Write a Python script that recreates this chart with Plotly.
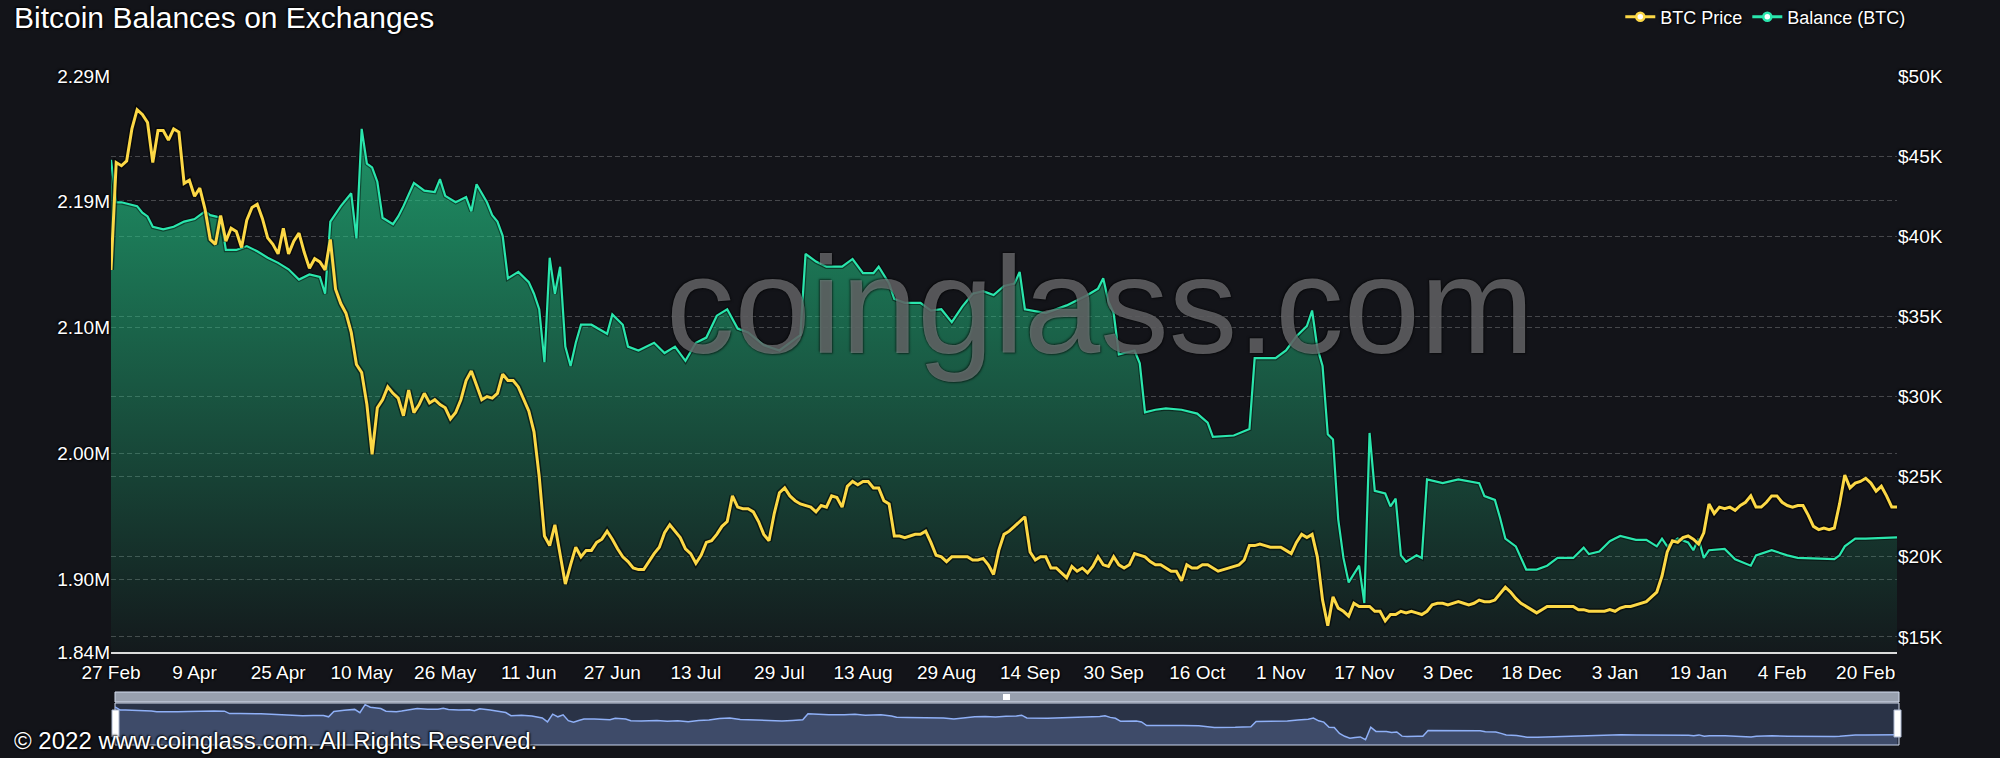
import plotly.graph_objects as go

# ---------------- data ----------------
tick_labels = ["27 Feb", "9 Apr", "25 Apr", "10 May", "26 May", "11 Jun", "27 Jun",
               "13 Jul", "29 Jul", "13 Aug", "29 Aug", "14 Sep", "30 Sep", "16 Oct",
               "1 Nov", "17 Nov", "3 Dec", "18 Dec", "3 Jan", "19 Jan", "4 Feb", "20 Feb"]
label_every = 16          # one x label every 16 categories
n_categories = 343        # category slots on the x axis

# BTC price in $K, one value per category slot
price_k = [
    37.9, 44.6, 44.4, 44.7, 46.7, 47.9, 47.6, 47.1, 44.6, 46.6, 46.6, 46.0, 46.7, 46.5, 43.3, 43.5,
    42.5, 43.0, 41.7, 39.8, 39.5, 41.3, 39.7, 40.5, 40.3, 39.3, 41.0, 41.8, 42.0, 41.1, 39.9, 39.5,
    38.9, 40.5, 38.9, 39.7, 40.2, 39.0, 38.0, 38.6, 38.4, 37.9, 39.8, 36.7, 35.8, 35.2, 34.0, 32.0,
    31.5, 29.5, 26.4, 29.3, 29.8, 30.6, 30.2, 29.9, 28.8, 30.4, 29.0, 29.5, 30.2, 29.6, 29.8, 29.5,
    29.3, 28.6, 29.0, 29.8, 31.0, 31.6, 30.7, 29.8, 30.0, 29.9, 30.2, 31.4, 31.0, 31.0, 30.6, 29.8,
    29.1, 27.8, 25.0, 21.3, 20.7, 22.0, 20.2, 18.3, 19.5, 20.6, 20.0, 20.4, 20.4, 20.9, 21.1, 21.6,
    21.1, 20.5, 20.0, 19.7, 19.3, 19.2, 19.2, 19.7, 20.2, 20.6, 21.5, 22.0, 21.6, 21.2, 20.5, 20.2,
    19.6, 20.1, 20.9, 21.0, 21.4, 21.9, 22.2, 23.8, 23.1, 23.0, 23.0, 22.8, 22.2, 21.4, 21.0, 22.7,
    24.0, 24.3, 23.8, 23.5, 23.3, 23.2, 23.1, 22.8, 23.2, 23.1, 23.8, 23.7, 23.1, 24.4, 24.7, 24.5,
    24.7, 24.7, 24.3, 24.3, 23.5, 23.3, 21.3, 21.3, 21.2, 21.3, 21.4, 21.4, 21.6, 20.9, 20.1, 20.0,
    19.7, 20.0, 20.0, 20.0, 20.0, 19.8, 19.8, 19.9, 19.5, 18.9, 20.4, 21.4, 21.6, 21.9, 22.2, 22.5,
    20.3, 19.8, 20.0, 20.0, 19.3, 19.3, 19.0, 18.7, 19.4, 19.1, 19.3, 19.0, 19.4, 20.0, 19.5, 19.4,
    20.0, 19.5, 19.3, 19.5, 20.2, 20.1, 20.0, 19.7, 19.5, 19.5, 19.3, 19.1, 19.1, 18.5, 19.5, 19.3,
    19.3, 19.5, 19.5, 19.3, 19.1, 19.2, 19.3, 19.4, 19.5, 19.8, 20.7, 20.7, 20.8, 20.7, 20.6, 20.6,
    20.6, 20.4, 20.2, 20.9, 21.4, 21.2, 21.4, 20.0, 17.3, 15.7, 17.5, 16.8, 16.6, 16.3, 17.1, 16.9,
    16.9, 16.9, 16.6, 16.6, 16.0, 16.4, 16.4, 16.6, 16.5, 16.6, 16.5, 16.4, 16.6, 17.0, 17.1, 17.1,
    17.0, 17.1, 17.2, 17.1, 17.0, 17.1, 17.3, 17.2, 17.2, 17.3, 17.7, 18.1, 17.8, 17.4, 17.1, 16.9,
    16.7, 16.5, 16.7, 16.9, 16.9, 16.9, 16.9, 16.9, 16.9, 16.7, 16.7, 16.6, 16.6, 16.6, 16.6, 16.7,
    16.6, 16.8, 16.9, 16.9, 17.0, 17.1, 17.2, 17.5, 17.8, 18.8, 20.3, 21.0, 20.9, 21.2, 21.3, 21.1,
    20.8, 21.5, 23.3, 22.7, 23.1, 23.0, 23.1, 22.9, 23.2, 23.4, 23.8, 23.1, 23.1, 23.4, 23.8, 23.8,
    23.4, 23.2, 23.1, 23.2, 23.2, 22.6, 21.9, 21.7, 21.8, 21.7, 21.8, 23.3, 25.1, 24.3, 24.6, 24.7,
    24.9, 24.6, 24.1, 24.4, 23.8, 23.1, 23.1,
]

# Exchange balance in million BTC, read at these category slots
balance_slot = [
    0, 1, 2, 4, 5, 6, 7, 8, 10, 12, 14, 16, 18, 19, 21, 22, 24, 26, 28, 30, 32, 34, 36, 38, 40, 41,
    42, 44, 46, 47, 48, 49, 50, 51, 52, 54, 55, 56, 58, 60, 62, 63, 64, 66, 68, 69, 70, 72, 73, 74,
    75, 76, 78, 80, 81, 82, 83, 84, 85, 86, 87, 88, 89, 90, 92, 95, 96, 98, 99, 101, 104, 106, 108,
    110, 112, 114, 116, 118, 120, 122, 125, 128, 130, 132, 133, 135, 137, 140, 142, 144, 146, 147,
    149, 150, 152, 155, 157, 159, 161, 163, 165, 167, 169, 171, 173, 174, 175, 179, 183, 187, 189,
    190, 191, 192, 193, 196, 197, 198, 200, 202, 205, 208, 210, 211, 215, 218, 219, 223, 225, 227,
    229, 230, 231, 232, 233, 234, 235, 236, 237, 238, 239, 240, 241, 242, 244, 245, 246, 247, 248,
    250, 251, 252, 255, 258, 262, 263, 265, 266, 267, 269, 271, 273, 275, 277, 280, 282, 283, 285,
    287, 288, 289, 292, 294, 296, 297, 298, 300, 302, 303, 304, 305, 306, 309, 311, 313, 314, 315,
    317, 318, 321, 323, 330, 331, 332, 334, 336, 342,
]
balance_m = [
    2.226, 2.193, 2.193, 2.191, 2.190, 2.185, 2.182, 2.174, 2.172, 2.174, 2.178, 2.180, 2.186, 2.183,
    2.181, 2.156, 2.156, 2.159, 2.155, 2.150, 2.146, 2.141, 2.133, 2.137, 2.135, 2.122,
    2.178, 2.190, 2.200, 2.165, 2.250, 2.223, 2.220, 2.209, 2.181, 2.176, 2.182, 2.190, 2.208, 2.202,
    2.201, 2.211, 2.198, 2.193, 2.197, 2.186, 2.207, 2.193, 2.183, 2.178,
    2.167, 2.134, 2.139, 2.131, 2.122, 2.110, 2.069, 2.150, 2.122, 2.143, 2.081, 2.066, 2.084, 2.098,
    2.098, 2.091, 2.106, 2.098, 2.081, 2.078, 2.084, 2.076, 2.081,
    2.070, 2.084, 2.088, 2.105, 2.110, 2.095, 2.092, 2.082, 2.078, 2.084, 2.090, 2.153, 2.147, 2.143,
    2.143, 2.149, 2.138, 2.138, 2.143,
    2.130, 2.118, 2.115, 2.115, 2.109, 2.110, 2.100, 2.112, 2.122, 2.124, 2.121, 2.128, 2.130, 2.139,
    2.110, 2.107, 2.113, 2.121, 2.126,
    2.134, 2.116, 2.107, 2.075, 2.078, 2.068, 2.030, 2.032, 2.033, 2.032, 2.029, 2.022, 2.011, 2.012,
    2.017, 2.072, 2.072, 2.078, 2.089,
    2.097, 2.109, 2.080, 2.066, 2.013, 2.009, 1.947, 1.917, 1.898, 1.905, 1.911, 1.882, 2.014, 1.969,
    1.967, 1.957, 1.963, 1.919, 1.914,
    1.919, 1.917, 1.978, 1.975, 1.978, 1.975, 1.965, 1.962, 1.948, 1.932, 1.926, 1.908, 1.908, 1.911,
    1.917, 1.917, 1.925, 1.920, 1.922,
    1.930, 1.932, 1.934, 1.931, 1.931, 1.926, 1.932, 1.926, 1.932, 1.929, 1.923, 1.932, 1.917, 1.923,
    1.924, 1.916, 1.913, 1.911, 1.919,
    1.922, 1.923, 1.919, 1.917, 1.916, 1.919, 1.926, 1.932, 1.932, 1.933,
]

left_tick_vals = [1.844, 1.900, 1.998, 2.096, 2.194, 2.291]
left_tick_text = ["1.84M", "1.90M", "2.00M", "2.10M", "2.19M", "2.29M"]
right_tick_vals = [15, 20, 25, 30, 35, 40, 45, 50]
right_tick_text = ["$15K", "$20K", "$25K", "$30K", "$35K", "$40K", "$45K", "$50K"]
left_range = [1.844, 2.291]
right_range = [14.06, 50]
mini_range = [1.826, 2.267]

title_text = "Bitcoin Balances on Exchanges"
watermark_text = "coinglass.com"
copyright_text = "\u00a9 2022 www.coinglass.com. All Rights Reserved."

# ---------------- styling ----------------
BG = "#131419"
YELLOW = "#fcd846"
TEAL = "#2ae6ad"
FONT = "Liberation Sans, Arial, sans-serif"
SHADOW = "1px 1px 2px #000, -1px -1px 2px #000"
GRID = "rgba(255,255,255,0.22)"

price_slot = list(range(len(price_k)))
x_tick_vals = [i * label_every for i in range(len(tick_labels))]
x_range = [0, n_categories - 1]

fig = go.Figure()

# balance area with vertical gradient
fig.add_trace(go.Scatter(
    x=balance_slot, y=balance_m, mode="lines", fill="tozeroy",
    line=dict(width=0, color=TEAL),
    fillgradient=dict(type="vertical",
                      colorscale=[[0, "rgba(35,200,135,0.03)"], [1, "rgba(35,200,135,0.70)"]],
                      start=left_range[0], stop=max(balance_m)),
    showlegend=False, hoverinfo="skip", xaxis="x", yaxis="y"))
# dark outline under balance line
fig.add_trace(go.Scatter(
    x=balance_slot, y=balance_m, mode="lines",
    line=dict(width=4.5, color="rgba(0,0,0,0.45)"),
    showlegend=False, hoverinfo="skip", xaxis="x", yaxis="y"))
fig.add_trace(go.Scatter(
    x=balance_slot, y=balance_m, mode="lines", name="Balance (BTC)",
    line=dict(width=2.2, color=TEAL), showlegend=False, xaxis="x", yaxis="y"))

# price line on right axis
fig.add_trace(go.Scatter(
    x=price_slot, y=price_k, mode="lines",
    line=dict(width=6, color="rgba(0,0,0,0.55)"),
    showlegend=False, hoverinfo="skip", xaxis="x", yaxis="y2"))
fig.add_trace(go.Scatter(
    x=price_slot, y=price_k, mode="lines", name="BTC Price",
    line=dict(width=3, color=YELLOW), showlegend=False, xaxis="x", yaxis="y2"))

# legend entries (line + hollow circle, like the reference)
fig.add_trace(go.Scatter(
    x=[None], y=[None], mode="lines+markers", name="BTC Price",
    line=dict(width=3, color=YELLOW),
    marker=dict(size=8, color="white", line=dict(width=2.5, color=YELLOW)),
    xaxis="x", yaxis="y2"))
fig.add_trace(go.Scatter(
    x=[None], y=[None], mode="lines+markers", name="Balance (BTC)",
    line=dict(width=3, color=TEAL),
    marker=dict(size=8, color="white", line=dict(width=2.5, color=TEAL)),
    xaxis="x", yaxis="y"))

# mini overview chart (data zoom look-alike)
fig.add_trace(go.Scatter(
    x=balance_slot, y=balance_m, mode="lines", fill="tozeroy",
    line=dict(width=1.5, color="#8fb0f7"), fillcolor="rgba(143,176,247,0.2)",
    showlegend=False, hoverinfo="skip", xaxis="x2", yaxis="y3"))

# ---------------- layout ----------------
W, H = 2000, 758
ML, MR, MT, MB = 111, 103, 76, 11
plot_h = H - MT - MB
main_bottom_px = 652
main_dom0 = (H - MB - main_bottom_px) / plot_h


def py(px):  # pixel row -> paper y
    return (H - MB - px) / plot_h


def px_x(px):  # pixel column -> paper x
    return (px - ML) / (W - ML - MR)


def clamp(v):
    return max(0.0, min(1.0, v))


tickfont = dict(family=FONT, size=19, color="#ffffff", shadow=SHADOW)

fig.update_layout(
    width=W, height=H,
    margin=dict(l=ML, r=MR, t=MT, b=MB, autoexpand=False),
    paper_bgcolor=BG, plot_bgcolor=BG,
    font=dict(family=FONT, color="#ffffff", shadow=SHADOW),
    title=dict(text=title_text, x=14 / W, xanchor="left", y=1 - 17 / H, yanchor="middle",
               font=dict(family=FONT, size=30, color="#ffffff", shadow=SHADOW)),
    legend=dict(orientation="h", x=1.008, xanchor="right", y=py(17), yanchor="middle",
                font=dict(family=FONT, size=18, color="#ffffff", shadow=SHADOW),
                bgcolor="rgba(0,0,0,0)", itemwidth=30, traceorder="normal"),
    showlegend=True,
    xaxis=dict(domain=[0, 1], anchor="y", range=x_range, tickmode="array",
               tickvals=x_tick_vals, ticktext=tick_labels, tickfont=tickfont,
               showgrid=False, zeroline=False, showline=True, linecolor="#dcdcdc", linewidth=2,
               ticks="outside", ticklen=2, tickcolor="rgba(0,0,0,0)"),
    yaxis=dict(domain=[main_dom0, 1], anchor="x", range=left_range, tickmode="array",
               tickvals=left_tick_vals, ticktext=left_tick_text, tickfont=tickfont,
               showgrid=True, gridcolor=GRID, griddash="5px,3px", gridwidth=1,
               zeroline=False, showline=False, ticks="", ticklabelstandoff=0),
    yaxis2=dict(overlaying="y", side="right", anchor="x", range=right_range, tickmode="array",
                tickvals=right_tick_vals, ticktext=right_tick_text, tickfont=tickfont,
                showgrid=True, gridcolor=GRID, griddash="5px,3px", gridwidth=1,
                zeroline=False, showline=False, ticks="", ticklabelstandoff=0),
    xaxis2=dict(domain=[clamp(px_x(115)), clamp(px_x(1899))], anchor="y3", range=x_range, visible=False),
    yaxis3=dict(domain=[clamp(py(745)), clamp(py(703))], anchor="x2", range=mini_range, visible=False),
)

shapes = [
    # selected-range filler + frame of the overview
    dict(type="rect", xref="paper", yref="paper", x0=px_x(115), x1=px_x(1899), y0=py(745), y1=py(703),
         fillcolor="rgba(135,175,255,0.2)", line=dict(color="#d2dbee", width=1), layer="below"),
    # move-handle bar
    dict(type="rect", xref="paper", yref="paper", x0=px_x(115), x1=px_x(1899), y0=py(702), y1=py(692),
         fillcolor="rgba(210,219,238,0.7)", line=dict(color="#d2dbee", width=1)),
    dict(type="rect", xref="paper", yref="paper", x0=px_x(1003), x1=px_x(1010), y0=py(700), y1=py(694),
         fillcolor="#ffffff", line=dict(width=0)),
    # side handles
    dict(type="rect", xref="paper", yref="paper", x0=px_x(112), x1=px_x(119), y0=py(737), y1=py(710),
         fillcolor="#ffffff", line=dict(color="#acb8d1", width=1)),
    dict(type="rect", xref="paper", yref="paper", x0=px_x(1894), x1=px_x(1901), y0=py(737), y1=py(710),
         fillcolor="#ffffff", line=dict(color="#acb8d1", width=1)),
]
fig.update_layout(shapes=shapes)

fig.add_annotation(text=watermark_text, xref="paper", yref="paper", x=px_x(1100), y=py(305),
                   xanchor="center", yanchor="middle", showarrow=False,
                   font=dict(family=FONT, size=137, color="rgba(165,165,170,0.5)", shadow=SHADOW))
fig.add_annotation(text=copyright_text, xref="paper", yref="paper", x=px_x(12), y=py(740),
                   xanchor="left", yanchor="middle", showarrow=False,
                   font=dict(family=FONT, size=24, color="#ffffff", shadow=SHADOW))

fig.write_html("out.html", config={"displayModeBar": False},
               post_script="document.body.style.margin='0px';")
